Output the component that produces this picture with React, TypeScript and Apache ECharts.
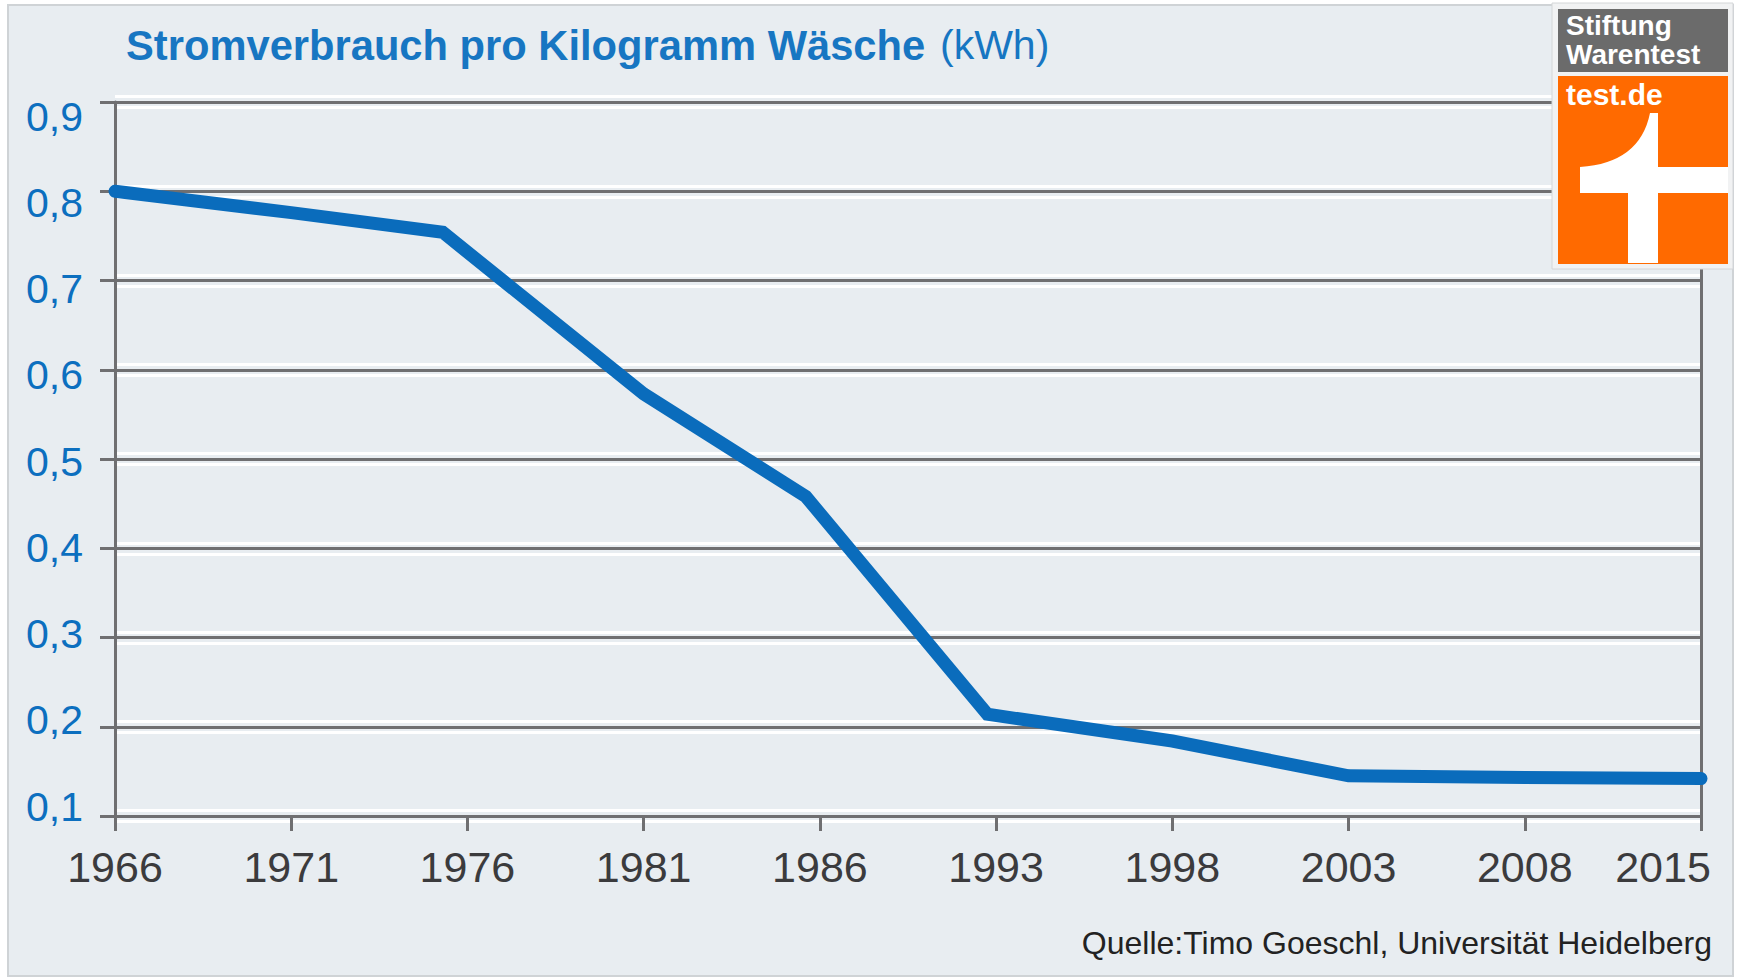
import React, { useEffect, useRef } from 'react';
import * as echarts from 'echarts';

// ---- data ----
const years = ['1966', '1971', '1976', '1981', '1986', '1993', '1998', '2003', '2008', '2015'];
// position of each measured point on the (evenly spaced) year scale, index units
const pointPositions = [0, 1, 1.86, 3, 3.92, 4.95, 6, 7, 8, 9];
const consumption = [0.8, 0.776, 0.754, 0.573, 0.458, 0.214, 0.184, 0.145, 0.143, 0.142];
const yTicks = [0.1, 0.2, 0.3, 0.4, 0.5, 0.6, 0.7, 0.8, 0.9];

const TITLE_BOLD = 'Stromverbrauch pro Kilogramm Wäsche';
const TITLE_UNIT = '(kWh)';
const SOURCE = 'Quelle:Timo Goeschl, Universität Heidelberg';

const FONT = "'Liberation Sans', Arial, Helvetica, sans-serif";
const DARK = '#6f6f71';
const BG = '#e8edf1';
const BLUE = '#0c6fbf';
const LINE = '#0a6cbc';

const LOGO_D =
  'M92 36 L100 36 L100 90 L170 90 L170 116 L100 116 L100 186 L70 186 L70 116 L22 116 L22 90 Q82 86 92 36 Z';
echarts.graphic.registerShape('logoOne', echarts.graphic.extendPath(LOGO_D, {}));

export default function App() {
  const ref = useRef<HTMLDivElement>(null);

  useEffect(() => {
    if (!ref.current) return;
    const chart = echarts.init(ref.current, undefined, { renderer: 'svg' });
    const sameScale = { type: 'value', min: 0.1, max: 0.9, interval: 0.1 };
    const option: any = {
      animation: false,
      backgroundColor: 'transparent',
      grid: { left: 115, right: 37, top: 102, bottom: 164, containLabel: false, outerBoundsMode: 'none' },
      xAxis: [
        {
          type: 'value',
          min: 0,
          max: 9,
          interval: 1,
          z: 2,
          axisLine: { show: true, onZero: false, lineStyle: { color: DARK, width: 3 } },
          axisTick: { show: true, length: 15, lineStyle: { color: DARK, width: 3 } },
          splitLine: { show: false },
          axisLabel: {
            margin: 29,
            fontSize: 43,
            fontFamily: FONT,
            color: '#3b3b3d',
            formatter: (v: number) => {
              const i = Math.round(v);
              if (i === years.length - 1) return '{last|' + years[i] + '}';
              return years[i] ?? '';
            },
            rich: {
              last: { fontSize: 43, fontFamily: FONT, color: '#3b3b3d', padding: [0, 76, 0, 0] },
            },
          },
        },
      ],
      yAxis: [
        {
          ...sameScale,
          z: 2,
          axisLine: { show: true, lineStyle: { color: DARK, width: 3 } },
          axisTick: { show: true, length: 15, lineStyle: { color: DARK, width: 3 } },
          axisLabel: { show: false },
          splitLine: { show: true, lineStyle: { color: DARK, width: 3 } },
        },
        {
          ...sameScale,
          z: 0,
          axisLine: { show: false },
          axisTick: { show: false },
          axisLabel: { show: false },
          splitLine: { show: true, lineStyle: { color: '#ffffff', width: 14 } },
        },
        {
          ...sameScale,
          z: 1,
          axisLine: { show: false },
          axisTick: { show: false },
          axisLabel: { show: false },
          splitLine: { show: true, lineStyle: { color: BG, width: 8 } },
        },
        {
          ...sameScale,
          position: 'right',
          z: 2,
          axisLine: { show: true, lineStyle: { color: DARK, width: 3 } },
          axisTick: { show: false },
          axisLabel: { show: false },
          splitLine: { show: false },
        },
        {
          type: 'value',
          position: 'left',
          min: 0.08921,
          max: 0.91703,
          z: 2,
          axisLine: { show: false },
          axisTick: { show: false },
          splitLine: { show: false },
          axisLabel: {
            customValues: yTicks,
            margin: 32,
            fontSize: 41,
            fontFamily: FONT,
            color: BLUE,
            formatter: (v: number) => v.toFixed(1).replace('.', ','),
          },
        },
      ],
      series: [
        {
          type: 'line',
          xAxisIndex: 0,
          yAxisIndex: 0,
          data: pointPositions.map((p, i) => [p, consumption[i]]),
          symbol: 'none',
          clip: false,
          z: 10,
          lineStyle: { color: LINE, width: 13, cap: 'round', join: 'miter' },
        },
      ],
      graphic: [
        {
          type: 'text',
          x: 126,
          y: 45,
          z: 50,
          style: {
            text: TITLE_BOLD,
            font: `bold 41.7px ${FONT}`,
            fill: '#1776c2',
            textVerticalAlign: 'middle',
            verticalAlign: 'middle',
          },
        },
        {
          type: 'text',
          x: 940,
          y: 45,
          z: 50,
          style: {
            text: TITLE_UNIT,
            font: `41px ${FONT}`,
            fill: '#1776c2',
            textVerticalAlign: 'middle',
            verticalAlign: 'middle',
          },
        },
        {
          type: 'text',
          x: 1712,
          y: 943,
          z: 50,
          style: {
            text: SOURCE,
            font: `32px ${FONT}`,
            fill: '#222222',
            textAlign: 'right',
            align: 'right',
            textVerticalAlign: 'middle',
            verticalAlign: 'middle',
          },
        },
        // logo
        {
          type: 'rect',
          z: 100,
          shape: { x: 1552, y: 3, width: 181, height: 266 },
          style: { fill: '#f1f2f3', stroke: '#d4d6d8', lineWidth: 1 },
        },
        {
          type: 'rect',
          z: 101,
          shape: { x: 1558, y: 9, width: 170, height: 63 },
          style: { fill: '#6b6b6b' },
        },
        {
          type: 'rect',
          z: 101,
          shape: { x: 1558, y: 76, width: 170, height: 188 },
          style: { fill: '#ff6a00' },
        },
        {
          type: 'text',
          x: 1566,
          y: 40,
          z: 102,
          style: {
            text: 'Stiftung\nWarentest',
            font: `bold 28px ${FONT}`,
            lineHeight: 29,
            fill: '#ffffff',
            textVerticalAlign: 'middle',
            verticalAlign: 'middle',
          },
        },
        {
          type: 'text',
          x: 1566,
          y: 94,
          z: 102,
          style: { text: 'test.de', font: `bold 30px ${FONT}`, fill: '#ffffff', textVerticalAlign: 'middle', verticalAlign: 'middle' },
        },
        {
          type: 'logoOne',
          x: 1558,
          y: 77,
          scaleX: 1,
          scaleY: 1,
          z: 102,
          style: { fill: '#ffffff' },
        },
      ],
    };
    chart.setOption(option);
    return () => chart.dispose();
  }, []);

  return (
    <div style={{ position: 'fixed', left: 0, top: 0, width: 1738, height: 980, background: '#ffffff' }}>
      <div
        style={{
          position: 'absolute',
          left: 7,
          top: 4,
          width: 1727,
          height: 973,
          boxSizing: 'border-box',
          border: '2px solid #cfd3d6',
          background: BG,
        }}
      />
      <div ref={ref} style={{ position: 'absolute', left: 0, top: 0, width: 1738, height: 980 }} />
    </div>
  );
}
